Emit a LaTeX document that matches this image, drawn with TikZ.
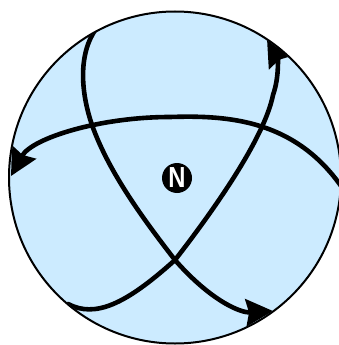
\documentclass[tikz,border=0pt]{standalone}
\usepackage{fontspec}
\setmainfont{Liberation Sans}
\usetikzlibrary{arrows.meta}
\definecolor{globe}{RGB}{204,235,255}
\tikzset{
  trail/.style={line width=4.6pt, line cap=round,
    -{Stealth[length=27pt,width=27pt,inset=3pt]}},
  rim/.style={line width=2pt},
}
\begin{document}
\begin{tikzpicture}[x=1pt,y=-1pt]
\useasboundingbox (0,0) rectangle (338,345);
\coordinate (c) at (175,177.5);
\fill[globe] (c) circle[radius=166];
\begin{scope}
  \clip (c) circle[radius=165.2];
  % horizontal arc, arrow to the left
  \coordinate (a1) at (347,195);
  \coordinate (a2) at (11,176);
  \draw[trail] (a1) .. controls (300,120) and (230,115) .. (170,117)
                     .. controls (100,117) and (32,138) .. (a2);
  % top-left to bottom-right
  \coordinate (b1) at (99,25);
  \coordinate (b2) at (273,311);
  \draw[trail] (b1) .. controls (78,50) and (80,90) .. (92,125)
                     .. controls (108,170) and (140,215) .. (175,260)
                     .. controls (210,300) and (240,313) .. (b2);
  % bottom-left to top-right
  \coordinate (d1) at (68,304);
  \coordinate (d2) at (267,39);
  \draw[trail] (d1) .. controls (95,318) and (125,305) .. (175,260)
                     .. controls (210,215) and (264,140) .. (273,95)
                     .. controls (280,75) and (277,56) .. (d2);
\end{scope}
\draw[rim] (c) circle[radius=166];
\node[circle, fill=black, minimum size=30pt, inner sep=0pt,
      font=\fontsize{29}{29}\selectfont\bfseries, text=white] (n) at (177,178)
      {\scalebox{0.82}[1]{N}};
\end{tikzpicture}
\end{document}
